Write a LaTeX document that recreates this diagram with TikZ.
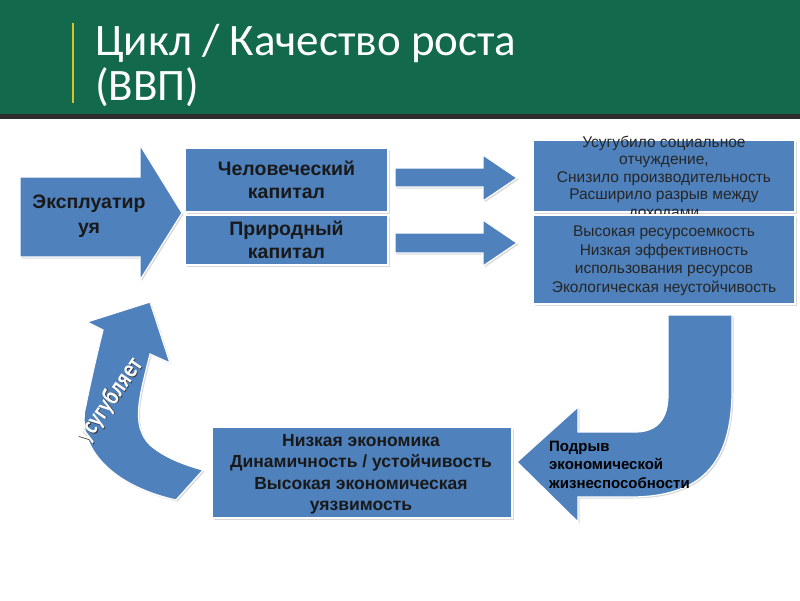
\documentclass[tikz,border=0pt]{standalone}
\usepackage{fontspec}
\setmainfont{Liberation Sans}
\newfontfamily\titlefont{Carlito}
\newfontfamily\wordart[FakeStretch=0.8]{Carlito}
\usetikzlibrary{shadows}
\definecolor{hdrgreen}{RGB}{18,105,76}
\definecolor{boxblue}{RGB}{79,129,189}
\definecolor{hdrline}{RGB}{45,45,45}
\definecolor{titleyellow}{RGB}{214,196,40}
\tikzset{
  blk/.style={fill=boxblue, draw=white, line width=1.2pt,
    drop shadow={shadow xshift=1.5pt, shadow yshift=-1.5pt, opacity=0.3}},
  boxn/.style={blk, rectangle, inner sep=0pt},
  btxt/.style={font=\fontsize{19.5}{23}\selectfont\bfseries, text=black!90, align=center},
  rtxt/.style={font=\fontsize{15.5}{17.5}\selectfont, text=black!85, align=center},
  ltxt/.style={font=\fontsize{17.5}{21.5}\selectfont\bfseries, text=black!90, align=center},
  ptxt/.style={font=\fontsize{15}{18.5}\selectfont\bfseries, text=black, align=left, inner sep=0pt},
  ttl/.style={font=\titlefont\fontsize{45}{52}\selectfont, text=white, inner sep=0pt}
}
\begin{document}
\begin{tikzpicture}[x=1pt,y=-1pt]
\useasboundingbox (0,0) rectangle (800,600);
% header
\fill[hdrgreen] (0,0) rectangle (800,114);
\fill[hdrline] (0,114) rectangle (800,119);
\draw[titleyellow, line width=2pt] (73,23) -- (73,103);
\node[ttl, anchor=base west] (title1) at (95,55) {Цикл / Качество роста};
\node[ttl, anchor=base west] (title2) at (95,100) {(ВВП)};

% big left arrow
\path[blk] (20,177) -- (140,177) -- (140,145) -- (182,213) -- (140,280) -- (140,257) -- (20,257) -- cycle;
\node[btxt, font=\fontsize{19.5}{25}\selectfont\bfseries] (expl) at (89,216) {Эксплуатир\\уя};

% capital boxes
\node[boxn, minimum width=203, minimum height=64] (hc) at (286.5,180) {};
\node[btxt] (hct) at (hc.center) {Человеческий\\капитал};
\node[boxn, minimum width=203, minimum height=50] (nc) at (286.5,240) {};
\node[btxt] (nct) at (nc.center) {Природный\\капитал};

% small arrows
\path[blk] (395,168) -- (483,168) -- (483,155) -- (517,178) -- (483,201) -- (483,187) -- (395,187) -- cycle;
\path[blk] (395,233) -- (483,233) -- (483,220) -- (517,243) -- (483,266) -- (483,253) -- (395,253) -- cycle;

% right boxes
\node[boxn, minimum width=262, minimum height=72] (sr) at (664,176) {};
\node[rtxt] (srt) at (664,178) {Усугубило социальное\\отчуждение,\\Снизило производительность\\Расширило разрыв между\\доходами};
\node[boxn, minimum width=262, minimum height=89] (nr) at (664,259.5) {};
\node[rtxt, font=\fontsize{15.5}{18.5}\selectfont] (nrt) at (664,261) {Высокая ресурсоемкость\\Низкая эффективность\\использования ресурсов\\Экологическая неустойчивость};

% U arrow
\path[blk] (668,315) -- (732,315) -- (732,390) .. controls (732,465) and (700,497) .. (630,497) -- (578,497) -- (578,522) -- (517,462) -- (578,407) -- (578,432) -- (635,432) .. controls (658,432) and (668,418) .. (668,395) -- cycle;
\node[ptxt, anchor=west] (podr) at (549,464.5) {Подрыв\\экономической\\жизнеспособности};

% bottom-left box
\node[boxn, minimum width=300, minimum height=91] (le) at (362,472.5) {};
\node[ltxt] (let) at (361,474.5) {Низкая экономика\\Динамичность / устойчивость\\Высокая экономическая\\уязвимость};

% curved left arrow
\path[blk] (203,470) -- (176,500) .. controls (105,484) and (76,442) .. (86,405) .. controls (91,380) and (98,350) .. (103,330) -- (87,322) -- (150,302) -- (170,363) -- (150,354) .. controls (140,395) and (130,425) .. (150,445) .. controls (165,458) and (185,465) .. (203,470) -- cycle;
\node[rotate=55, text=black!80, font=\wordart\fontsize{26}{26}\selectfont\bfseries] (usugs) at (110.8,400.8) {усугубляет};
\node[rotate=55, text=white, font=\wordart\fontsize{26}{26}\selectfont\bfseries] (usug) at (110,400) {усугубляет};
\end{tikzpicture}
\end{document}
